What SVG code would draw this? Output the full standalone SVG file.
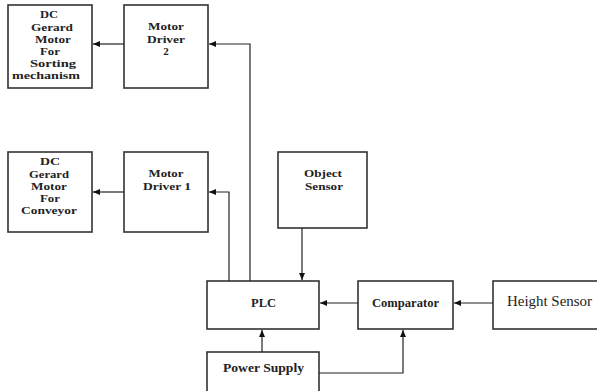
<svg xmlns="http://www.w3.org/2000/svg" width="597" height="391" viewBox="0 0 597 391">
<style>
.box{fill:#fff;stroke:#333;stroke-width:1.6}
.t{font-family:"Liberation Serif","Times New Roman",serif;font-size:11px;font-weight:bold;fill:#222;text-anchor:middle}
.b{font-family:"Liberation Serif","Times New Roman",serif;font-size:12px;font-weight:bold;fill:#222;text-anchor:middle}
.h{font-family:"Liberation Serif","Times New Roman",serif;font-size:14px;fill:#222;text-anchor:middle}
.c{fill:none;stroke:#222;stroke-width:1.2}
</style>
<defs>
<marker id="ar" markerWidth="8" markerHeight="8" refX="7" refY="4" orient="auto" markerUnits="userSpaceOnUse">
<path d="M0,1 L7,4 L0,7 Z" fill="#111"/>
</marker>
</defs>
<rect width="597" height="391" fill="#fff"/>
<g id="dc-sorting">
<rect class="box" x="8" y="5" width="84" height="83"/>
<text class="t" x="49" y="18" textLength="18" lengthAdjust="spacingAndGlyphs">DC</text>
<text class="t" x="52" y="30.5" textLength="42" lengthAdjust="spacingAndGlyphs">Gerard</text>
<text class="t" x="53" y="42.5" textLength="36" lengthAdjust="spacingAndGlyphs">Motor</text>
<text class="t" x="50" y="54.5" textLength="20" lengthAdjust="spacingAndGlyphs">For</text>
<text class="t" x="53" y="67" textLength="46" lengthAdjust="spacingAndGlyphs">Sorting</text>
<text class="t" x="46" y="79" textLength="68" lengthAdjust="spacingAndGlyphs">mechanism</text>
</g>
<g id="motor-driver-2">
<rect class="box" x="124" y="5" width="84" height="83"/>
<text class="t" x="166" y="30" textLength="36" lengthAdjust="spacingAndGlyphs">Motor</text>
<text class="t" x="166" y="42.5" textLength="38" lengthAdjust="spacingAndGlyphs">Driver</text>
<text class="t" x="166" y="55">2</text>
</g>
<g id="dc-conveyor">
<rect class="box" x="8" y="152" width="84" height="80"/>
<text class="t" x="50" y="165" textLength="20" lengthAdjust="spacingAndGlyphs">DC</text>
<text class="t" x="49" y="177.5" textLength="40" lengthAdjust="spacingAndGlyphs">Gerard</text>
<text class="t" x="49" y="189.5" textLength="36" lengthAdjust="spacingAndGlyphs">Motor</text>
<text class="t" x="50" y="202" textLength="20" lengthAdjust="spacingAndGlyphs">For</text>
<text class="t" x="49" y="214" textLength="56" lengthAdjust="spacingAndGlyphs">Conveyor</text>
</g>
<g id="motor-driver-1">
<rect class="box" x="124" y="152" width="84" height="80"/>
<text class="t" x="166" y="177" textLength="35" lengthAdjust="spacingAndGlyphs">Motor</text>
<text class="t" x="167" y="189.5" textLength="48" lengthAdjust="spacingAndGlyphs">Driver 1</text>
</g>
<g id="object-sensor">
<rect class="box" x="278" y="152" width="89" height="76"/>
<text class="t" x="323" y="177" textLength="38" lengthAdjust="spacingAndGlyphs">Object</text>
<text class="t" x="324" y="189.5" textLength="38" lengthAdjust="spacingAndGlyphs">Sensor</text>
</g>
<g id="plc">
<rect class="box" x="207" y="281" width="112" height="48"/>
<text class="b" x="263.5" y="307" textLength="25" lengthAdjust="spacingAndGlyphs">PLC</text>
</g>
<g id="comparator">
<rect class="box" x="358" y="281" width="95" height="48"/>
<text class="b" x="405.5" y="307" textLength="67" lengthAdjust="spacingAndGlyphs">Comparator</text>
</g>
<g id="height-sensor">
<rect class="box" x="493" y="281" width="110" height="48"/>
<text class="h" x="549.5" y="306" textLength="85" lengthAdjust="spacingAndGlyphs">Height Sensor</text>
</g>
<g id="power-supply">
<rect class="box" x="207" y="352" width="112" height="45"/>
<text class="b" x="263.5" y="372" textLength="81" lengthAdjust="spacingAndGlyphs">Power Supply</text>
</g>
<g id="connectors">
<path class="c" d="M124,44 H93" marker-end="url(#ar)"/>
<path class="c" d="M124,192 H93" marker-end="url(#ar)"/>
<path class="c" d="M250,281 V44 H209" marker-end="url(#ar)"/>
<path class="c" d="M229,281 V192 H209" marker-end="url(#ar)"/>
<path class="c" d="M302,228 V280" marker-end="url(#ar)"/>
<path class="c" d="M358,303 H320" marker-end="url(#ar)"/>
<path class="c" d="M493,303 H454" marker-end="url(#ar)"/>
<path class="c" d="M262,352 V330" marker-end="url(#ar)"/>
<path class="c" d="M319,373 H403 V330" marker-end="url(#ar)"/>
</g>
</svg>
